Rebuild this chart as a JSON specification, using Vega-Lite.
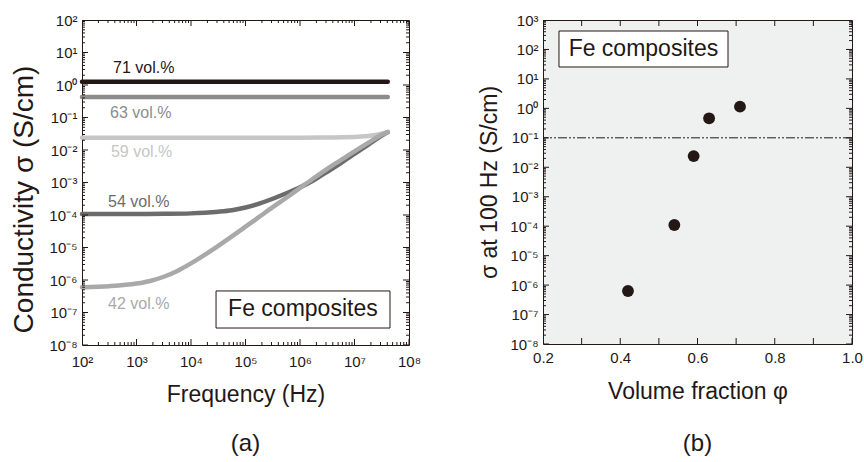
{
  "$schema": "https://vega.github.io/schema/vega-lite/v6.json",
  "padding": {"left": 10, "top": 12, "right": 8, "bottom": 4},
  "spacing": 56,
  "config": {
    "font": "Liberation Sans",
    "view": {"stroke": "#231815", "strokeWidth": 1},
    "axis": {
      "grid": false,
      "ticks": false,
      "domain": false,
      "labelFont": "Liberation Sans",
      "labelFontSize": 15,
      "labelColor": "#231815",
      "labelOverlap": false,
      "labelFlush": false,
      "titleFont": "Liberation Sans",
      "titleFontSize": 23,
      "titleFontWeight": "normal",
      "titleColor": "#231815"
    },
    "tick": {"opacity": 1, "thickness": 1, "color": "#231815"},
    "title": {"font": "Liberation Sans", "fontSize": 24, "fontWeight": "normal", "color": "#231815"}
  },
  "datasets": {
    "curves": [
      {"vol": "71 vol.%", "f": 100, "s": 1.26},
      {"vol": "71 vol.%", "f": 10000, "s": 1.26},
      {"vol": "71 vol.%", "f": 1000000, "s": 1.26},
      {"vol": "71 vol.%", "f": 40738028, "s": 1.26},
      {"vol": "63 vol.%", "f": 100, "s": 0.43},
      {"vol": "63 vol.%", "f": 10000, "s": 0.43},
      {"vol": "63 vol.%", "f": 1000000, "s": 0.43},
      {"vol": "63 vol.%", "f": 40738028, "s": 0.43},
      {"vol": "59 vol.%", "f": 100, "s": 0.024},
      {"vol": "59 vol.%", "f": 1000, "s": 0.024},
      {"vol": "59 vol.%", "f": 10000, "s": 0.024},
      {"vol": "59 vol.%", "f": 100000, "s": 0.024},
      {"vol": "59 vol.%", "f": 1000000, "s": 0.024},
      {"vol": "59 vol.%", "f": 3162278, "s": 0.0243},
      {"vol": "59 vol.%", "f": 10000000, "s": 0.0251},
      {"vol": "59 vol.%", "f": 17782794, "s": 0.0269},
      {"vol": "59 vol.%", "f": 31622777, "s": 0.0316},
      {"vol": "59 vol.%", "f": 40738028, "s": 0.0355},
      {"vol": "54 vol.%", "f": 100, "s": 0.0001072},
      {"vol": "54 vol.%", "f": 316.2, "s": 0.0001072},
      {"vol": "54 vol.%", "f": 1000, "s": 0.0001072},
      {"vol": "54 vol.%", "f": 3162, "s": 0.0001084},
      {"vol": "54 vol.%", "f": 10000, "s": 0.0001122},
      {"vol": "54 vol.%", "f": 17783, "s": 0.0001175},
      {"vol": "54 vol.%", "f": 31623, "s": 0.0001259},
      {"vol": "54 vol.%", "f": 56234, "s": 0.0001396},
      {"vol": "54 vol.%", "f": 100000, "s": 0.0001698},
      {"vol": "54 vol.%", "f": 177828, "s": 0.0002239},
      {"vol": "54 vol.%", "f": 316228, "s": 0.0003162},
      {"vol": "54 vol.%", "f": 562341, "s": 0.0004677},
      {"vol": "54 vol.%", "f": 1000000, "s": 0.000708},
      {"vol": "54 vol.%", "f": 1778279, "s": 0.001175},
      {"vol": "54 vol.%", "f": 3162278, "s": 0.002138},
      {"vol": "54 vol.%", "f": 5623413, "s": 0.00398},
      {"vol": "54 vol.%", "f": 10000000, "s": 0.00759},
      {"vol": "54 vol.%", "f": 17782794, "s": 0.01445},
      {"vol": "54 vol.%", "f": 31622777, "s": 0.02754},
      {"vol": "54 vol.%", "f": 40738028, "s": 0.0355},
      {"vol": "42 vol.%", "f": 100, "s": 6.03e-7},
      {"vol": "42 vol.%", "f": 316.2, "s": 6.46e-7},
      {"vol": "42 vol.%", "f": 1000, "s": 7.76e-7},
      {"vol": "42 vol.%", "f": 1778, "s": 9.33e-7},
      {"vol": "42 vol.%", "f": 3162, "s": 1.259e-6},
      {"vol": "42 vol.%", "f": 5623, "s": 1.905e-6},
      {"vol": "42 vol.%", "f": 10000, "s": 3.24e-6},
      {"vol": "42 vol.%", "f": 17783, "s": 5.89e-6},
      {"vol": "42 vol.%", "f": 31623, "s": 1.12e-5},
      {"vol": "42 vol.%", "f": 56234, "s": 2.19e-5},
      {"vol": "42 vol.%", "f": 100000, "s": 4.37e-5},
      {"vol": "42 vol.%", "f": 177828, "s": 8.71e-5},
      {"vol": "42 vol.%", "f": 316228, "s": 0.0001738},
      {"vol": "42 vol.%", "f": 562341, "s": 0.000339},
      {"vol": "42 vol.%", "f": 1000000, "s": 0.000676},
      {"vol": "42 vol.%", "f": 1778279, "s": 0.001349},
      {"vol": "42 vol.%", "f": 3162278, "s": 0.00263},
      {"vol": "42 vol.%", "f": 5623413, "s": 0.0049},
      {"vol": "42 vol.%", "f": 10000000, "s": 0.00912},
      {"vol": "42 vol.%", "f": 17782794, "s": 0.0166},
      {"vol": "42 vol.%", "f": 31622777, "s": 0.0295},
      {"vol": "42 vol.%", "f": 40738028, "s": 0.0355}
    ],
    "curveLabels": [
      {"vol": "71 vol.%", "f": 371, "s": 3.33},
      {"vol": "63 vol.%", "f": 327, "s": 0.137},
      {"vol": "59 vol.%", "f": 340, "s": 0.0087},
      {"vol": "54 vol.%", "f": 300, "s": 0.00025},
      {"vol": "42 vol.%", "f": 300, "s": 1.8e-7}
    ],
    "boxA": [{"f": 28800, "f2": 44800000, "s": 4.6e-7, "s2": 3.33e-8, "cf": 1130000, "cs": 1.24e-7, "label": "Fe composites"}],
    "freqTicks": [
      {"v": 100, "kind": "major"}, {"v": 200, "kind": "minor"}, {"v": 300, "kind": "minor"}, {"v": 400, "kind": "minor"}, {"v": 500, "kind": "minor"}, {"v": 600, "kind": "minor"}, {"v": 700, "kind": "minor"}, {"v": 800, "kind": "minor"}, {"v": 900, "kind": "minor"},
      {"v": 1000, "kind": "major"}, {"v": 2000, "kind": "minor"}, {"v": 3000, "kind": "minor"}, {"v": 4000, "kind": "minor"}, {"v": 5000, "kind": "minor"}, {"v": 6000, "kind": "minor"}, {"v": 7000, "kind": "minor"}, {"v": 8000, "kind": "minor"}, {"v": 9000, "kind": "minor"},
      {"v": 1e4, "kind": "major"}, {"v": 2e4, "kind": "minor"}, {"v": 3e4, "kind": "minor"}, {"v": 4e4, "kind": "minor"}, {"v": 5e4, "kind": "minor"}, {"v": 6e4, "kind": "minor"}, {"v": 7e4, "kind": "minor"}, {"v": 8e4, "kind": "minor"}, {"v": 9e4, "kind": "minor"},
      {"v": 1e5, "kind": "major"}, {"v": 2e5, "kind": "minor"}, {"v": 3e5, "kind": "minor"}, {"v": 4e5, "kind": "minor"}, {"v": 5e5, "kind": "minor"}, {"v": 6e5, "kind": "minor"}, {"v": 7e5, "kind": "minor"}, {"v": 8e5, "kind": "minor"}, {"v": 9e5, "kind": "minor"},
      {"v": 1e6, "kind": "major"}, {"v": 2e6, "kind": "minor"}, {"v": 3e6, "kind": "minor"}, {"v": 4e6, "kind": "minor"}, {"v": 5e6, "kind": "minor"}, {"v": 6e6, "kind": "minor"}, {"v": 7e6, "kind": "minor"}, {"v": 8e6, "kind": "minor"}, {"v": 9e6, "kind": "minor"},
      {"v": 1e7, "kind": "major"}, {"v": 2e7, "kind": "minor"}, {"v": 3e7, "kind": "minor"}, {"v": 4e7, "kind": "minor"}, {"v": 5e7, "kind": "minor"}, {"v": 6e7, "kind": "minor"}, {"v": 7e7, "kind": "minor"}, {"v": 8e7, "kind": "minor"}, {"v": 9e7, "kind": "minor"},
      {"v": 1e8, "kind": "major"}
    ],
    "sigmaTicks": [
      {"v": 1e-8, "kind": "major"}, {"v": 2e-8, "kind": "minor"}, {"v": 3e-8, "kind": "minor"}, {"v": 4e-8, "kind": "minor"}, {"v": 5e-8, "kind": "minor"}, {"v": 6e-8, "kind": "minor"}, {"v": 7e-8, "kind": "minor"}, {"v": 8e-8, "kind": "minor"}, {"v": 9e-8, "kind": "minor"},
      {"v": 1e-7, "kind": "major"}, {"v": 2e-7, "kind": "minor"}, {"v": 3e-7, "kind": "minor"}, {"v": 4e-7, "kind": "minor"}, {"v": 5e-7, "kind": "minor"}, {"v": 6e-7, "kind": "minor"}, {"v": 7e-7, "kind": "minor"}, {"v": 8e-7, "kind": "minor"}, {"v": 9e-7, "kind": "minor"},
      {"v": 1e-6, "kind": "major"}, {"v": 2e-6, "kind": "minor"}, {"v": 3e-6, "kind": "minor"}, {"v": 4e-6, "kind": "minor"}, {"v": 5e-6, "kind": "minor"}, {"v": 6e-6, "kind": "minor"}, {"v": 7e-6, "kind": "minor"}, {"v": 8e-6, "kind": "minor"}, {"v": 9e-6, "kind": "minor"},
      {"v": 1e-5, "kind": "major"}, {"v": 2e-5, "kind": "minor"}, {"v": 3e-5, "kind": "minor"}, {"v": 4e-5, "kind": "minor"}, {"v": 5e-5, "kind": "minor"}, {"v": 6e-5, "kind": "minor"}, {"v": 7e-5, "kind": "minor"}, {"v": 8e-5, "kind": "minor"}, {"v": 9e-5, "kind": "minor"},
      {"v": 1e-4, "kind": "major"}, {"v": 2e-4, "kind": "minor"}, {"v": 3e-4, "kind": "minor"}, {"v": 4e-4, "kind": "minor"}, {"v": 5e-4, "kind": "minor"}, {"v": 6e-4, "kind": "minor"}, {"v": 7e-4, "kind": "minor"}, {"v": 8e-4, "kind": "minor"}, {"v": 9e-4, "kind": "minor"},
      {"v": 0.001, "kind": "major"}, {"v": 0.002, "kind": "minor"}, {"v": 0.003, "kind": "minor"}, {"v": 0.004, "kind": "minor"}, {"v": 0.005, "kind": "minor"}, {"v": 0.006, "kind": "minor"}, {"v": 0.007, "kind": "minor"}, {"v": 0.008, "kind": "minor"}, {"v": 0.009, "kind": "minor"},
      {"v": 0.01, "kind": "major"}, {"v": 0.02, "kind": "minor"}, {"v": 0.03, "kind": "minor"}, {"v": 0.04, "kind": "minor"}, {"v": 0.05, "kind": "minor"}, {"v": 0.06, "kind": "minor"}, {"v": 0.07, "kind": "minor"}, {"v": 0.08, "kind": "minor"}, {"v": 0.09, "kind": "minor"},
      {"v": 0.1, "kind": "major"}, {"v": 0.2, "kind": "minor"}, {"v": 0.3, "kind": "minor"}, {"v": 0.4, "kind": "minor"}, {"v": 0.5, "kind": "minor"}, {"v": 0.6, "kind": "minor"}, {"v": 0.7, "kind": "minor"}, {"v": 0.8, "kind": "minor"}, {"v": 0.9, "kind": "minor"},
      {"v": 1, "kind": "major"}, {"v": 2, "kind": "minor"}, {"v": 3, "kind": "minor"}, {"v": 4, "kind": "minor"}, {"v": 5, "kind": "minor"}, {"v": 6, "kind": "minor"}, {"v": 7, "kind": "minor"}, {"v": 8, "kind": "minor"}, {"v": 9, "kind": "minor"},
      {"v": 10, "kind": "major"}, {"v": 20, "kind": "minor"}, {"v": 30, "kind": "minor"}, {"v": 40, "kind": "minor"}, {"v": 50, "kind": "minor"}, {"v": 60, "kind": "minor"}, {"v": 70, "kind": "minor"}, {"v": 80, "kind": "minor"}, {"v": 90, "kind": "minor"},
      {"v": 100, "kind": "major"}, {"v": 200, "kind": "minor"}, {"v": 300, "kind": "minor"}, {"v": 400, "kind": "minor"}, {"v": 500, "kind": "minor"}, {"v": 600, "kind": "minor"}, {"v": 700, "kind": "minor"}, {"v": 800, "kind": "minor"}, {"v": 900, "kind": "minor"},
      {"v": 1000, "kind": "major"}
    ],
    "phiTicks": [
      {"v": 0.2, "kind": "major"}, {"v": 0.3, "kind": "major"}, {"v": 0.4, "kind": "major"}, {"v": 0.5, "kind": "major"}, {"v": 0.6, "kind": "major"}, {"v": 0.7, "kind": "major"}, {"v": 0.8, "kind": "major"}, {"v": 0.9, "kind": "major"}, {"v": 1.0, "kind": "major"}
    ],
    "points": [
      {"phi": 0.42, "s": 6.3e-7},
      {"phi": 0.54, "s": 0.00011},
      {"phi": 0.59, "s": 0.024},
      {"phi": 0.63, "s": 0.46},
      {"phi": 0.71, "s": 1.14}
    ],
    "threshold": [{"s": 0.1}],
    "boxB": [{"phi": 0.2414, "phi2": 0.679, "s": 423, "s2": 25.4, "cphi": 0.46, "cs": 103, "label": "Fe composites"}]
  },
  "hconcat": [
    {
      "width": 327,
      "height": 325,
      "title": {"text": "(a)", "orient": "bottom", "offset": 26},
      "view": {"fill": "white"},
      "layer": [
        {
          "data": {"name": "curves"},
          "mark": {"type": "line", "strokeWidth": 4.5, "strokeCap": "round", "strokeJoin": "round", "interpolate": "monotone"},
          "encoding": {
            "x": {
              "field": "f", "type": "quantitative",
              "scale": {"type": "log", "domain": [100, 100000000], "nice": false},
              "axis": {
                "title": "Frequency (Hz)", "titlePadding": 14,
                "values": [100, 1000, 10000, 100000, 1000000, 10000000, 100000000],
                "labelPadding": 9,
                "labelExpr": "'10' + replace(replace(replace(replace(replace(replace(replace(replace(replace(replace(replace('' + round(log(datum.value)/LN10), '-', '⁻'), '0', '⁰'), '1', '¹'), '2', '²'), '3', '³'), '4', '⁴'), '5', '⁵'), '6', '⁶'), '7', '⁷'), '8', '⁸'), '9', '⁹')"
              }
            },
            "y": {
              "field": "s", "type": "quantitative",
              "scale": {"type": "log", "domain": [1e-8, 100], "nice": false},
              "axis": {
                "title": "Conductivity σ (S/cm)", "titlePadding": 10, "titleFontSize": 28, "titleY": 179,
                "values": [1e-8, 1e-7, 1e-6, 1e-5, 1e-4, 0.001, 0.01, 0.1, 1, 10, 100],
                "labelPadding": 5,
                "labelExpr": "'10' + replace(replace(replace(replace(replace(replace(replace(replace(replace(replace(replace('' + round(log(datum.value)/LN10), '-', '⁻'), '0', '⁰'), '1', '¹'), '2', '²'), '3', '³'), '4', '⁴'), '5', '⁵'), '6', '⁶'), '7', '⁷'), '8', '⁸'), '9', '⁹')"
              }
            },
            "color": {
              "field": "vol", "type": "nominal", "legend": null,
              "scale": {
                "domain": ["71 vol.%", "63 vol.%", "59 vol.%", "54 vol.%", "42 vol.%"],
                "range": ["#231815", "#8c8c8c", "#c6c6c6", "#6c6c6c", "#a9a9a9"]
              }
            }
          }
        },
        {
          "data": {"name": "freqTicks"},
          "mark": {"type": "tick", "orient": "vertical", "clip": true},
          "encoding": {
            "x": {"field": "v", "type": "quantitative"},
            "y": {"datum": 1e-8, "type": "quantitative"},
            "size": {"field": "kind", "type": "ordinal", "legend": null, "scale": {"domain": ["major", "minor"], "range": [12, 6]}}
          }
        },
        {
          "data": {"name": "freqTicks"},
          "mark": {"type": "tick", "orient": "vertical", "clip": true},
          "encoding": {
            "x": {"field": "v", "type": "quantitative"},
            "y": {"datum": 100, "type": "quantitative"},
            "size": {"field": "kind", "type": "ordinal", "legend": null}
          }
        },
        {
          "data": {"name": "sigmaTicks"},
          "transform": [{"filter": "datum.v <= 100"}],
          "mark": {"type": "tick", "orient": "horizontal", "clip": true},
          "encoding": {
            "y": {"field": "v", "type": "quantitative"},
            "x": {"datum": 100, "type": "quantitative"},
            "size": {"field": "kind", "type": "ordinal", "legend": null}
          }
        },
        {
          "data": {"name": "sigmaTicks"},
          "transform": [{"filter": "datum.v <= 100"}],
          "mark": {"type": "tick", "orient": "horizontal", "clip": true},
          "encoding": {
            "y": {"field": "v", "type": "quantitative"},
            "x": {"datum": 100000000, "type": "quantitative"},
            "size": {"field": "kind", "type": "ordinal", "legend": null}
          }
        },
        {
          "data": {"name": "curveLabels"},
          "mark": {"type": "text", "align": "left", "baseline": "middle", "fontSize": 16},
          "encoding": {
            "x": {"field": "f", "type": "quantitative"},
            "y": {"field": "s", "type": "quantitative"},
            "text": {"field": "vol"},
            "color": {"field": "vol", "type": "nominal", "legend": null}
          }
        },
        {
          "data": {"name": "boxA"},
          "mark": {"type": "rect", "fill": "white", "stroke": "#231815", "strokeWidth": 1},
          "encoding": {
            "x": {"field": "f", "type": "quantitative"},
            "x2": {"field": "f2"},
            "y": {"field": "s", "type": "quantitative"},
            "y2": {"field": "s2"}
          }
        },
        {
          "data": {"name": "boxA"},
          "mark": {"type": "text", "align": "center", "baseline": "middle", "fontSize": 23, "color": "#231815"},
          "encoding": {
            "x": {"field": "cf", "type": "quantitative"},
            "y": {"field": "cs", "type": "quantitative"},
            "text": {"field": "label"}
          }
        }
      ]
    },
    {
      "width": 309,
      "height": 324,
      "title": {"text": "(b)", "orient": "bottom", "offset": 29},
      "view": {"fill": "#eff0f0"},
      "layer": [
        {
          "data": {"name": "points"},
          "mark": {"type": "point", "filled": true, "size": 140, "opacity": 1, "color": "#231815"},
          "encoding": {
            "x": {
              "field": "phi", "type": "quantitative",
              "scale": {"domain": [0.2, 1.0], "zero": false, "nice": false},
              "axis": {
                "title": "Volume fraction φ", "titlePadding": 15,
                "values": [0.2, 0.4, 0.6, 0.8, 1.0],
                "labelPadding": 6,
                "labelExpr": "format(datum.value, '.1f')"
              }
            },
            "y": {
              "field": "s", "type": "quantitative",
              "scale": {"type": "log", "domain": [1e-8, 1000], "nice": false},
              "axis": {
                "title": "σ at 100 Hz (S/cm)", "titlePadding": 8,
                "values": [1e-8, 1e-7, 1e-6, 1e-5, 1e-4, 0.001, 0.01, 0.1, 1, 10, 100, 1000],
                "labelPadding": 5,
                "labelExpr": "'10' + replace(replace(replace(replace(replace(replace(replace(replace(replace(replace(replace('' + round(log(datum.value)/LN10), '-', '⁻'), '0', '⁰'), '1', '¹'), '2', '²'), '3', '³'), '4', '⁴'), '5', '⁵'), '6', '⁶'), '7', '⁷'), '8', '⁸'), '9', '⁹')"
              }
            }
          }
        },
        {
          "data": {"name": "threshold"},
          "mark": {"type": "rule", "color": "#231815", "strokeWidth": 1, "strokeDash": [9, 2, 2, 2, 2, 2]},
          "encoding": {
            "y": {"field": "s", "type": "quantitative"}
          }
        },
        {
          "data": {"name": "phiTicks"},
          "mark": {"type": "tick", "orient": "vertical", "clip": true},
          "encoding": {
            "x": {"field": "v", "type": "quantitative"},
            "y": {"datum": 1e-8, "type": "quantitative"},
            "size": {"field": "kind", "type": "ordinal", "legend": null, "scale": {"domain": ["major", "minor"], "range": [12, 6]}}
          }
        },
        {
          "data": {"name": "phiTicks"},
          "mark": {"type": "tick", "orient": "vertical", "clip": true},
          "encoding": {
            "x": {"field": "v", "type": "quantitative"},
            "y": {"datum": 1000, "type": "quantitative"},
            "size": {"field": "kind", "type": "ordinal", "legend": null}
          }
        },
        {
          "data": {"name": "sigmaTicks"},
          "mark": {"type": "tick", "orient": "horizontal", "clip": true},
          "encoding": {
            "y": {"field": "v", "type": "quantitative"},
            "x": {"datum": 0.2, "type": "quantitative"},
            "size": {"field": "kind", "type": "ordinal", "legend": null}
          }
        },
        {
          "data": {"name": "sigmaTicks"},
          "mark": {"type": "tick", "orient": "horizontal", "clip": true},
          "encoding": {
            "y": {"field": "v", "type": "quantitative"},
            "x": {"datum": 1.0, "type": "quantitative"},
            "size": {"field": "kind", "type": "ordinal", "legend": null}
          }
        },
        {
          "data": {"name": "boxB"},
          "mark": {"type": "rect", "fill": "white", "stroke": "#231815", "strokeWidth": 1},
          "encoding": {
            "x": {"field": "phi", "type": "quantitative"},
            "x2": {"field": "phi2"},
            "y": {"field": "s", "type": "quantitative"},
            "y2": {"field": "s2"}
          }
        },
        {
          "data": {"name": "boxB"},
          "mark": {"type": "text", "align": "center", "baseline": "middle", "fontSize": 23, "color": "#231815"},
          "encoding": {
            "x": {"field": "cphi", "type": "quantitative"},
            "y": {"field": "cs", "type": "quantitative"},
            "text": {"field": "label"}
          }
        }
      ]
    }
  ]
}
